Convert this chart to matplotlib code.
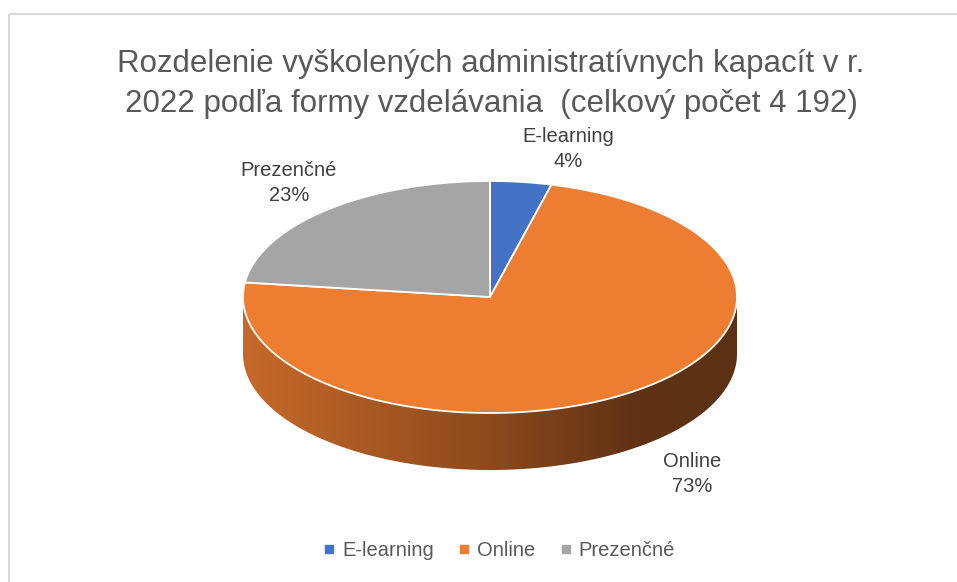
import numpy as np
import matplotlib
matplotlib.use("Agg")
import matplotlib.pyplot as plt
from matplotlib.patches import Polygon, Rectangle
from matplotlib.lines import Line2D
from matplotlib.colors import to_rgb

plt.rcParams['font.family'] = ['Liberation Sans', 'DejaVu Sans']

# data
categories = ['E-learning', 'Online', 'Prezenčné']
shares = [4, 73, 23]
colors = ['#4472C4', '#ED7D31', '#A5A5A5']
title = 'Rozdelenie vyškolených administratívnych kapacít v r.\n2022 podľa formy vzdelávania  (celkový počet 4 192)'

# layout (pixels)
cx, cy, a, b, depth = 490, 297, 247, 116, 57
label_pos = [(568, 149), (692, 474), (289, 183)]

fig = plt.figure(figsize=(9.57, 5.82), dpi=100)
ax = fig.add_axes([0, 0, 1, 1])

# border of chart area
ax.add_patch(Rectangle((9, 14), 1000, 700, fill=False, ec='#d9d9d9', lw=1.5, zorder=0))

vals = np.array(shares, dtype=float)
angles = np.cumsum(np.concatenate([[0], vals / vals.sum() * 360]))
# clockwise from 12 o'clock
starts = 90 - angles[:-1]
ends = 90 - angles[1:]


def ell(t):
    return cx + a * np.cos(t), cy - b * np.sin(t)


# horizontal lighting: darker to the right
gx = np.linspace(cx - a, cx + a, 400)
gu = (gx - (cx - a)) / (2 * a)
gfac = np.interp(gu, [0, 0.5, 0.8, 1], [0.84, 0.59, 0.40, 0.39])

# side walls (front half only)
for s, e, c in zip(starts, ends, colors):
    lo, hi = e, s
    for k in (-360, 0, 360):
        f_lo, f_hi = max(lo, 180 + k), min(hi, 360 + k)
        if f_hi <= f_lo:
            continue
        t = np.radians(np.linspace(f_lo, f_hi, 300))
        xs, ys = ell(t)
        pts = np.column_stack([np.concatenate([xs, xs[::-1]]),
                               np.concatenate([ys, ys[::-1] + depth])])
        wall = Polygon(pts, closed=True, fc='none', ec='none', zorder=2)
        ax.add_patch(wall)
        img = np.clip(np.array(to_rgb(c))[None, None, :] * gfac[None, :, None], 0, 1)
        im = ax.imshow(img, extent=(cx - a, cx + a, cy + b + depth, cy - b),
                       aspect='auto', interpolation='bilinear', zorder=2)
        im.set_clip_path(wall)

# top faces
for s, e, c in zip(starts, ends, colors):
    t = np.radians(np.linspace(s, e, 200))
    xs, ys = ell(t)
    pts = np.column_stack([np.concatenate([[cx], xs]), np.concatenate([[cy], ys])])
    ax.add_patch(Polygon(pts, closed=True, fc=c, ec='white', lw=1.3, zorder=3))

# data labels
for name, v, (lx, ly) in zip(categories, shares, label_pos):
    ax.text(lx, ly, f'{name}\n{v}%', ha='center', va='center', fontsize=14.5,
            color='#404040', linespacing=1.35, zorder=5)

ax.text(491, 84, title, ha='center', va='center', fontsize=22.5, color='#595959',
        linespacing=1.45)

handles = [Line2D([], [], marker='s', ls='none', color=c, markersize=6) for c in colors]
fig.legend(handles, categories, loc='center', bbox_to_anchor=(497 / 957, 1 - 551 / 582),
           ncol=3, frameon=False, fontsize=14.5, handletextpad=0.15, columnspacing=1.0,
           labelcolor='#595959', handlelength=1.0)

ax.set_xlim(0, 957)
ax.set_ylim(582, 0)
ax.axis('off')

fig.savefig('out.png', dpi=100)
